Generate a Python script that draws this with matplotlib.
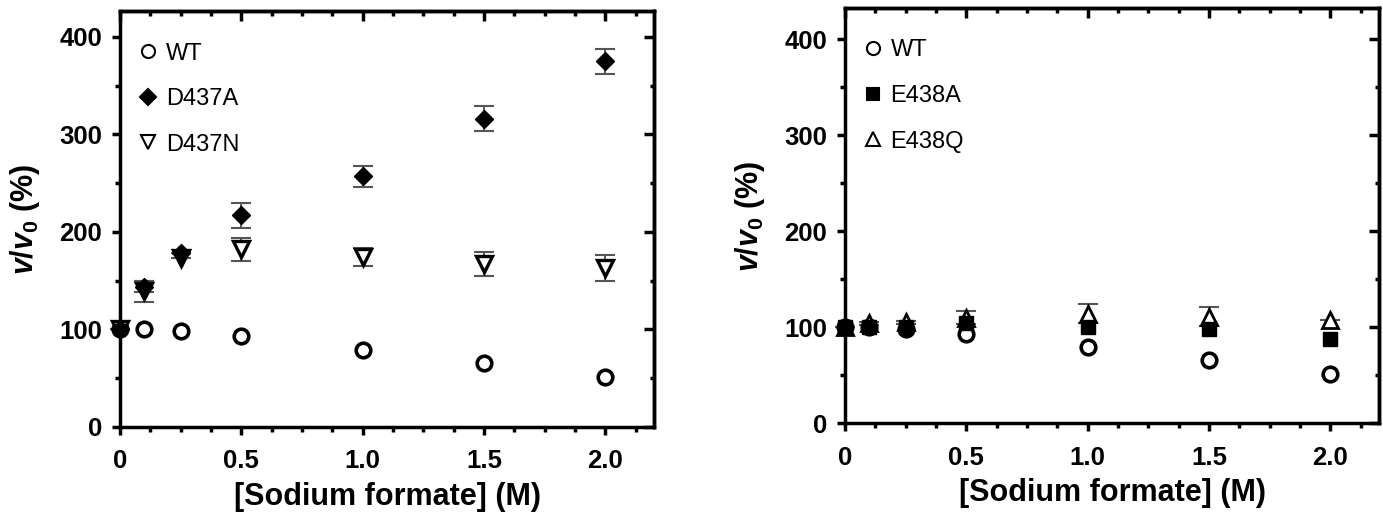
import matplotlib
matplotlib.use("Agg")
import matplotlib.pyplot as plt
from matplotlib.ticker import MultipleLocator, NullFormatter

plt.rcParams['font.family'] = ['Liberation Sans', 'DejaVu Sans']
plt.rcParams['mathtext.fontset'] = 'custom'
plt.rcParams['mathtext.it'] = 'Liberation Sans:bold:italic'
plt.rcParams['mathtext.rm'] = 'Liberation Sans:bold'
plt.rcParams['mathtext.bf'] = 'Liberation Sans:bold'

x = [0, 0.1, 0.25, 0.5, 1.0, 1.5, 2.0]
xtick_labels = ['0', '0.5', '1.0', '1.5', '2.0']

wt = [100, 100, 98, 93, 79, 66, 51]

d437a = [100, 144, 178, 217, 257, 316, 375]
d437a_err = [0, 6, 0, 13, 11, 13, 13]
d437n = [100, 139, 173, 182, 174, 167, 163]
d437n_err = [0, 11, 0, 12, 9, 12, 13]

e438a = [100, 100, 100, 104, 100, 98, 88]
e438q = [100, 104, 105, 110, 114, 111, 108]
e438q_err = [0, 2, 2, 7, 10, 10, 0]

fig = plt.figure(figsize=(13.83, 5.17), dpi=100)
axL = fig.add_axes([0.0868, 0.1741, 0.3861, 0.8037])
axR = fig.add_axes([0.6110, 0.1812, 0.3861, 0.8024])

LW = 2.5
ekw = dict(ecolor='#555555', elinewidth=1.4, capsize=7, capthick=1.5, linestyle='none')

def style(ax, ytop):
    ax.set_xlim(0, 2.2)
    ax.set_ylim(0, ytop)
    ax.set_xticks([0, 0.5, 1.0, 1.5, 2.0])
    ax.set_xticklabels(xtick_labels)
    ax.xaxis.set_minor_locator(MultipleLocator(0.125))
    ax.yaxis.set_major_locator(MultipleLocator(100))
    ax.yaxis.set_minor_locator(MultipleLocator(50))
    for s in ax.spines.values():
        s.set_linewidth(LW)
    ax.tick_params(which='both', direction='out', width=LW, labelsize=18.5)
    ax.tick_params(axis='x', which='both', pad=10)
    ax.tick_params(axis='y', which='both', pad=7)
    ax.tick_params(which='major', length=6)
    ax.tick_params(which='minor', length=3.5)
    sec = ax.secondary_xaxis('top')
    sec.set_xticks([0, 0.5, 1.0, 1.5, 2.0])
    sec.xaxis.set_minor_locator(MultipleLocator(0.125))
    sec.xaxis.set_major_formatter(NullFormatter())
    sec.tick_params(which='both', direction='in', width=LW)
    sec.tick_params(which='major', length=7)
    sec.tick_params(which='minor', length=3.5)
    sec.spines['top'].set_linewidth(LW)
    sec2 = ax.secondary_yaxis('right')
    sec2.yaxis.set_major_locator(MultipleLocator(100))
    sec2.yaxis.set_minor_locator(MultipleLocator(50))
    sec2.yaxis.set_major_formatter(NullFormatter())
    sec2.tick_params(which='both', direction='in', width=LW)
    sec2.tick_params(which='major', length=7)
    sec2.tick_params(which='minor', length=3)
    sec2.spines['right'].set_linewidth(LW)
    for lab in ax.get_xticklabels() + ax.get_yticklabels():
        lab.set_fontweight('bold')
    ax.set_xlabel('[Sodium formate] (M)', fontsize=22, fontweight='bold', labelpad=6)
    ax.set_ylabel(r'$\mathit{v}/\mathit{v}_{\mathrm{0}}$ (%)', fontsize=22, fontweight='bold', labelpad=12)

# Left panel
axL.errorbar(x, d437a, yerr=d437a_err, fmt='none', zorder=2, clip_on=False, **ekw)
axL.errorbar(x, d437n, yerr=d437n_err, fmt='none', zorder=2, clip_on=False, **ekw)
axL.plot(x, wt, 'o', ms=10.5, mfc='white', mec='black', mew=2.6, ls='none', label='WT', zorder=3, clip_on=False)
axL.plot(x, d437n, 'v', ms=11.5, mfc='white', mec='black', mew=2.4, ls='none', label='D437N', zorder=4, clip_on=False)
axL.plot(x, d437a, 'D', ms=9, mfc='black', mec='black', mew=1, ls='none', label='D437A', zorder=5, clip_on=False)
style(axL, 426)

# Right panel
axR.errorbar(x, e438q, yerr=e438q_err, fmt='none', zorder=2, clip_on=False, **ekw)
axR.plot(x, wt, 'o', ms=10.5, mfc='white', mec='black', mew=2.6, ls='none', label='WT', zorder=3, clip_on=False)
axR.plot(x, e438q, '^', ms=11, mfc='white', mec='black', mew=2.0, ls='none', label='E438Q', zorder=4, clip_on=False)
axR.plot(x, e438a, 's', ms=9.5, mfc='black', mec='black', mew=1, ls='none', label='E438A', zorder=5, clip_on=False)
style(axR, 432)

orders = {axL: ['WT', 'D437A', 'D437N'], axR: ['WT', 'E438A', 'E438Q']}
for ax in (axL, axR):
    handles, labels = ax.get_legend_handles_labels()
    hmap = dict(zip(labels, handles))
    order = orders[ax]
    leg = ax.legend([hmap[k] for k in order], order, loc='upper left', frameon=False,
                    fontsize=17, labelspacing=1.0, handletextpad=0.15, handlelength=1.2,
                    markerscale=0.9, borderaxespad=0.0, bbox_to_anchor=(0.008, 0.948))
    for h in leg.legend_handles:
        h.set_markeredgewidth(1.5)

fig.savefig('out.png', dpi=100)
